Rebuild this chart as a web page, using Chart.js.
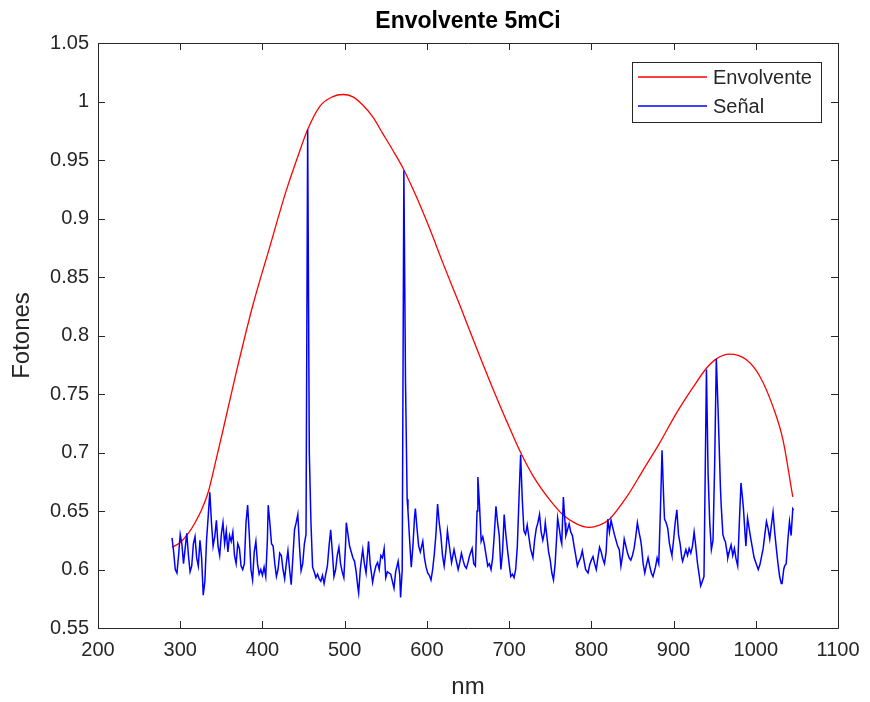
<!DOCTYPE html>
<html>
<head>
<meta charset="utf-8">
<script src="https://cdn.jsdelivr.net/npm/chart.js@4/dist/chart.umd.min.js"></script>
<style>
  html, body { margin: 0; padding: 0; background: #ffffff; }
  #wrap { width: 870px; height: 702px; }
</style>
</head>
<body>
<div id="wrap"><canvas id="c" width="870" height="702"></canvas></div>
<script>
// ---------- Data ----------
const chartTitle = "Envolvente 5mCi";
const xAxisLabel = "nm";
const yAxisLabel = "Fotones";
const seriesNames = ["Envolvente", "Señal"];

// Envelope (Envolvente)
const envNm = [290, 300, 310, 318, 326, 334, 344, 352, 368, 388, 409, 429, 443, 455, 470, 485, 498, 510, 522, 534, 546, 558, 571, 587, 603, 620, 640, 660, 680, 700, 714, 730, 750, 765, 782, 797, 810, 822, 843, 863, 883, 903, 924, 940, 952, 968, 989, 1005, 1021, 1033, 1045];
const envFotones = [0.619, 0.623, 0.631, 0.640, 0.651, 0.666, 0.695, 0.719, 0.768, 0.825, 0.876, 0.924, 0.953, 0.976, 0.996, 1.004, 1.006, 1.004, 0.997, 0.987, 0.973, 0.959, 0.943, 0.919, 0.892, 0.861, 0.826, 0.790, 0.755, 0.722, 0.700, 0.679, 0.659, 0.647, 0.639, 0.636, 0.638, 0.643, 0.662, 0.685, 0.708, 0.733, 0.756, 0.772, 0.780, 0.784, 0.779, 0.765, 0.739, 0.711, 0.662];

// Signal (Señal)
const signalNm = [290,292,294,296,298,300,302,304,306,308,310,312,314,316,318,320,322,324,326,328,330,332,334,336,338,340,342,344,346,348,350,352,354,356,358,360,362,364,366,368,370,372,374,376,378,380,382,384,386,388,390,392,394,396,398,400,402,404,406,407,409,411,413,415,417,419,421,423,425,427,429,431,433,435,437,439,441,443,445,447,449,451,453,455,457,459,461,463,465,467,469,471,473,475,477,479,481,483,485,487,489,491,493,495,497,499,501,502,504,506,508,510,512,514,516,517,519,521,522,524,526,528,529,531,534,536,538,540,542,544,546,548,550,552,554,556,558,560,562,565,567,568,570,572,574,576,577,579,581,583,585,586,588,590,592,595,597,599,601,603,605,607,609,611,613,615,617,619,621,623,625,627,630,633,635,638,640,642,644,646,648,650,652,655,657,659,661,662,664,666,668,670,672,674,676,678,680,682,684,686,688,690,692,694,696,698,700,702,704,706,708,710,712,714,716,718,720,722,724,726,729,731,733,735,737,739,741,743,744,746,748,750,752,754,756,758,759,761,763,764,766,768,769,771,773,775,777,779,781,783,785,787,789,791,793,796,798,800,802,804,806,808,810,812,814,816,818,820,822,824,826,828,830,832,834,836,838,840,842,844,846,848,850,852,854,856,858,860,861,863,865,867,869,871,873,875,876,878,880,882,884,886,888,889,891,893,895,897,898,900,902,904,906,908,910,911,913,915,917,919,921,923,925,927,929,931,933,935,937,940,942,944,946,948,950,952,954,955,957,958,960,962,963,965,966,968,970,972,974,976,978,980,982,984,985,987,988,990,992,994,996,998,1000,1003,1005,1007,1009,1011,1013,1015,1017,1019,1021,1023,1025,1027,1029,1031,1032,1034,1035,1037,1039,1041,1043,1045,1046];
const signalFotones = [0.627,0.615,0.600,0.597,0.612,0.630,0.622,0.605,0.618,0.631,0.612,0.598,0.603,0.622,0.628,0.610,0.603,0.625,0.610,0.578,0.590,0.625,0.645,0.666,0.640,0.620,0.628,0.642,0.620,0.612,0.630,0.640,0.622,0.633,0.615,0.629,0.624,0.632,0.612,0.605,0.622,0.618,0.603,0.600,0.605,0.640,0.655,0.630,0.600,0.591,0.615,0.624,0.605,0.596,0.600,0.595,0.602,0.594,0.625,0.655,0.640,0.622,0.620,0.605,0.594,0.600,0.614,0.612,0.600,0.592,0.605,0.616,0.600,0.587,0.610,0.634,0.640,0.647,0.620,0.599,0.605,0.622,0.630,0.976,0.700,0.640,0.602,0.598,0.593,0.596,0.592,0.590,0.595,0.588,0.596,0.603,0.620,0.634,0.615,0.594,0.600,0.612,0.619,0.605,0.598,0.593,0.620,0.640,0.630,0.620,0.615,0.610,0.607,0.598,0.585,0.580,0.600,0.612,0.617,0.605,0.597,0.615,0.624,0.605,0.589,0.597,0.603,0.606,0.600,0.612,0.610,0.618,0.593,0.598,0.597,0.596,0.590,0.584,0.598,0.607,0.595,0.576,0.600,0.941,0.760,0.660,0.650,0.625,0.602,0.620,0.645,0.652,0.635,0.620,0.615,0.624,0.610,0.602,0.597,0.595,0.591,0.600,0.613,0.630,0.656,0.640,0.629,0.612,0.603,0.615,0.633,0.622,0.606,0.617,0.610,0.600,0.606,0.614,0.608,0.603,0.601,0.606,0.612,0.618,0.605,0.603,0.650,0.679,0.655,0.624,0.628,0.621,0.612,0.603,0.605,0.600,0.610,0.630,0.654,0.640,0.629,0.600,0.615,0.647,0.630,0.617,0.605,0.594,0.596,0.593,0.600,0.620,0.660,0.698,0.660,0.633,0.630,0.638,0.628,0.618,0.610,0.625,0.635,0.640,0.647,0.632,0.625,0.632,0.640,0.628,0.615,0.608,0.597,0.591,0.605,0.630,0.644,0.635,0.625,0.622,0.662,0.640,0.629,0.634,0.639,0.632,0.629,0.620,0.612,0.603,0.607,0.610,0.616,0.608,0.600,0.597,0.604,0.608,0.611,0.605,0.600,0.610,0.619,0.615,0.609,0.605,0.615,0.643,0.632,0.642,0.636,0.630,0.625,0.620,0.617,0.603,0.612,0.626,0.620,0.614,0.610,0.608,0.612,0.618,0.628,0.640,0.632,0.625,0.620,0.605,0.597,0.604,0.610,0.603,0.597,0.594,0.594,0.602,0.610,0.605,0.650,0.702,0.660,0.643,0.640,0.635,0.622,0.615,0.612,0.625,0.640,0.651,0.630,0.622,0.610,0.607,0.612,0.617,0.612,0.618,0.614,0.620,0.632,0.620,0.606,0.596,0.586,0.590,0.594,0.771,0.682,0.640,0.617,0.625,0.690,0.780,0.740,0.717,0.670,0.654,0.630,0.625,0.624,0.615,0.610,0.616,0.621,0.612,0.618,0.609,0.603,0.640,0.674,0.660,0.652,0.630,0.620,0.644,0.635,0.626,0.618,0.610,0.606,0.600,0.604,0.611,0.618,0.630,0.641,0.635,0.626,0.638,0.649,0.632,0.618,0.605,0.594,0.588,0.588,0.600,0.603,0.605,0.625,0.641,0.629,0.652,0.651];

// Axis ranges and ticks
const xMin = 200, xMax = 1100, xStep = 100;
const yMin = 0.55, yMax = 1.05, yStep = 0.05;

// ---------- Styles ----------
const AXIS_COLOR = '#262626';
const FONT = '"Liberation Sans", Arial, Helvetica, sans-serif';
const PLOT = { left: 98, right: 838, top: 43, bottom: 628 };

const toPoints = (xs, ys) => xs.map((x, i) => ({ x: x, y: ys[i] }));

// Box + inward ticks on all four sides, title and legend (MATLAB-like)
const boxPlugin = {
  id: 'boxTicks',
  afterDatasetsDraw(chart) {
    const { ctx, chartArea: a, scales } = chart;
    ctx.save();
    ctx.strokeStyle = AXIS_COLOR;
    ctx.lineWidth = 1;
    ctx.beginPath();
    ctx.rect(Math.round(a.left) + 0.5, Math.round(a.top) + 0.5, Math.round(a.right - a.left), Math.round(a.bottom - a.top));
    ctx.stroke();
    const tl = 7;
    ctx.beginPath();
    scales.x.ticks.forEach(t => {
      const px = Math.round(scales.x.getPixelForValue(t.value)) + 0.5;
      ctx.moveTo(px, a.bottom); ctx.lineTo(px, a.bottom - tl);
      ctx.moveTo(px, a.top); ctx.lineTo(px, a.top + tl);
    });
    scales.y.ticks.forEach(t => {
      const py = Math.round(scales.y.getPixelForValue(t.value)) + 0.5;
      ctx.moveTo(a.left, py); ctx.lineTo(a.left + tl, py);
      ctx.moveTo(a.right, py); ctx.lineTo(a.right - tl, py);
    });
    ctx.stroke();
    ctx.restore();
  },
  afterDraw(chart) {
    const { ctx, chartArea: a } = chart;
    ctx.save();
    // Title
    ctx.fillStyle = '#000000';
    ctx.font = 'bold 23px ' + FONT;
    ctx.textAlign = 'center';
    ctx.textBaseline = 'middle';
    ctx.fillText(chartTitle, (a.left + a.right) / 2, 22);
    // Legend
    const lx = 632.5, ly = 62.5, lw = 189, lh = 60;
    ctx.fillStyle = '#ffffff';
    ctx.fillRect(lx, ly, lw, lh);
    ctx.strokeStyle = AXIS_COLOR;
    ctx.lineWidth = 1;
    ctx.strokeRect(lx, ly, lw, lh);
    ctx.font = '20px ' + FONT;
    ctx.textAlign = 'left';
    const rows = [77, 106];
    chart.data.datasets.forEach((ds, i) => {
      const y = rows[i];
      ctx.strokeStyle = ds.borderColor;
      ctx.lineWidth = 1.3;
      ctx.beginPath();
      ctx.moveTo(638, y); ctx.lineTo(707, y);
      ctx.stroke();
      ctx.fillStyle = AXIS_COLOR;
      ctx.fillText(ds.label, 713, y + 1);
    });
    ctx.restore();
  }
};

new Chart(document.getElementById('c'), {
  type: 'line',
  data: {
    datasets: [
      {
        label: seriesNames[0],
        data: toPoints(envNm, envFotones),
        borderColor: '#ff0000',
        borderWidth: 1.3,
        pointRadius: 0,
        fill: false,
        cubicInterpolationMode: 'monotone',
        order: 1
      },
      {
        label: seriesNames[1],
        data: toPoints(signalNm, signalFotones),
        borderColor: '#0000ff',
        borderWidth: 1.5,
        pointRadius: 0,
        fill: false,
        tension: 0,
        order: 0
      }
    ]
  },
  options: {
    responsive: false,
    animation: false,
    devicePixelRatio: 1,
    layout: { padding: { left: 0, right: 870 - PLOT.right, top: PLOT.top, bottom: 0 } },
    plugins: {
      legend: { display: false },
      title: { display: false },
      tooltip: { enabled: false }
    },
    scales: {
      x: {
        type: 'linear',
        min: xMin, max: xMax,
        border: { display: false },
        grid: { display: false, drawTicks: false },
        ticks: {
          stepSize: xStep,
          color: AXIS_COLOR,
          font: { family: FONT, size: 20 },
          padding: 10,
          maxRotation: 0,
          autoSkip: false,
          callback: (v) => String(v)
        },
        title: {
          display: true,
          text: xAxisLabel,
          color: AXIS_COLOR,
          font: { family: FONT, size: 24 },
          padding: { top: 0, bottom: 0 }
        },
        afterFit(scale) { scale.height = 702 - PLOT.bottom; }
      },
      y: {
        type: 'linear',
        min: yMin, max: yMax,
        border: { display: false },
        grid: { display: false, drawTicks: false },
        ticks: {
          stepSize: yStep,
          color: AXIS_COLOR,
          font: { family: FONT, size: 20 },
          padding: 9,
          autoSkip: false,
          callback: (v) => String(Number(v.toFixed(2)))
        },
        title: {
          display: true,
          text: yAxisLabel,
          color: AXIS_COLOR,
          font: { family: FONT, size: 24 },
          padding: { top: 8, bottom: 0 }
        },
        afterFit(scale) { scale.width = PLOT.left; }
      }
    }
  },
  plugins: [boxPlugin]
});
</script>
</body>
</html>
